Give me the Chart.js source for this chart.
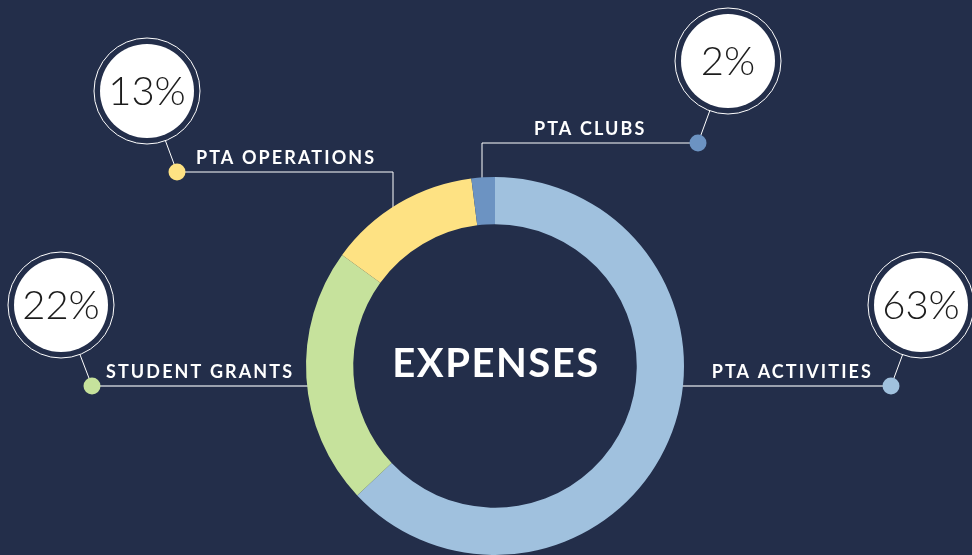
<!DOCTYPE html>
<html><head><meta charset="utf-8">
<script src="https://cdn.jsdelivr.net/npm/chart.js@4/dist/chart.umd.min.js"></script>
<style>html,body{margin:0;padding:0;background:#232e4a;overflow:hidden}canvas{display:block}</style>
</head><body>
<canvas id="c" width="972" height="555"></canvas>
<script>
const categories = ['PTA ACTIVITIES', 'STUDENT GRANTS', 'PTA OPERATIONS', 'PTA CLUBS'];
const values = [63, 22, 13, 2];
const percentLabels = ['63%', '22%', '13%', '2%'];
const centerTitle = 'EXPENSES';
const colors = ['#a0c1de', '#c6e29c', '#fee283', '#6c93c2'];

// callout layout (decoration), offsets relative to the doughnut centre
const callouts = [
  {dot:[396,20], bubble:[426,-61], label:'right', labelX:378, lineTo:'ring', line:'#c3c8d0', lw:1.5},
  {dot:[-403,20], bubble:[-434,-61], label:'left', labelX:-389, lineTo:'ring', line:'#c3c8d0', lw:1.5},
  {dot:[-318,-194], bubble:[-348,-275], label:'left', labelX:-299, elbowX:-102, line:'#ffffff', lw:1},
  {dot:[203,-223], bubble:[233,-305], label:'left', labelX:39, elbowX:-13, line:'#ffffff', lw:1}
];

const calloutPlugin = {
  id: 'callouts',
  beforeDatasetsDraw(chart) {
    const ctx = chart.ctx;
    const a = chart.getDatasetMeta(0).data[0];
    const cx = a.x, cy = a.y, R = a.outerRadius;
    ctx.save();
    callouts.forEach((c) => {
      const dx = cx + c.dot[0], dy = cy + c.dot[1];
      ctx.strokeStyle = c.line; ctx.lineWidth = c.lw;
      ctx.beginPath();
      if (c.lineTo === 'ring') {
        const ex = cx + Math.sign(c.dot[0]) * (R - 6);
        ctx.moveTo(dx, dy); ctx.lineTo(ex, dy);
      } else {
        const ex = cx + c.elbowX;
        const ey = cy - Math.sqrt(R * R - c.elbowX * c.elbowX) + 8;
        ctx.moveTo(dx, dy); ctx.lineTo(ex, dy); ctx.lineTo(ex, ey);
      }
      ctx.stroke();
    });
    ctx.restore();
  },
  afterDraw(chart) {
    const ctx = chart.ctx;
    const meta = chart.getDatasetMeta(0);
    const a = meta.data[0];
    const cx = a.x, cy = a.y;
    ctx.save();
    ctx.fillStyle = '#ffffff';
    ctx.font = '700 40px Lato, "Open Sans", sans-serif';
    ctx.letterSpacing = '1.5px';
    ctx.textAlign = 'center'; ctx.textBaseline = 'alphabetic';
    ctx.fillText(centerTitle, cx + 1, cy + 11);
    callouts.forEach((c, i) => {
      const dx = cx + c.dot[0], dy = cy + c.dot[1];
      const bx = cx + c.bubble[0], by = cy + c.bubble[1];
      const ang = Math.atan2(dy - by, dx - bx);
      ctx.strokeStyle = '#ffffff'; ctx.lineWidth = 1;
      ctx.beginPath();
      ctx.moveTo(bx + Math.cos(ang) * 53, by + Math.sin(ang) * 53);
      ctx.lineTo(dx, dy);
      ctx.stroke();
      ctx.fillStyle = colors[i];
      ctx.beginPath(); ctx.arc(dx, dy, 8.5, 0, Math.PI * 2); ctx.fill();
      ctx.beginPath(); ctx.arc(bx, by, 53, 0, Math.PI * 2);
      ctx.strokeStyle = '#ffffff'; ctx.lineWidth = 1; ctx.stroke();
      ctx.beginPath(); ctx.arc(bx, by, 47, 0, Math.PI * 2);
      ctx.fillStyle = '#ffffff'; ctx.fill();
      ctx.fillStyle = '#1c1c1c';
      ctx.font = '300 40px Lato, "Open Sans", sans-serif';
      ctx.letterSpacing = '0px';
      ctx.textAlign = 'center';
      ctx.fillText(percentLabels[i], bx, by + 14);
      ctx.fillStyle = '#ffffff';
      ctx.font = '700 18px Lato, "Open Sans", sans-serif';
      ctx.letterSpacing = '2.1px';
      ctx.textAlign = c.label === 'right' ? 'right' : 'left';
      ctx.fillText(categories[i], cx + c.labelX, dy - 8);
    });
    ctx.restore();
  }
};

new Chart(document.getElementById('c'), {
  type: 'doughnut',
  data: {
    labels: categories,
    datasets: [{ data: values, backgroundColor: colors, borderWidth: 0, hoverOffset: 0 }]
  },
  options: {
    responsive: false,
    animation: false,
    cutout: '75%',
    rotation: 0,
    layout: { padding: { top: 177, left: 18, right: 0, bottom: 0 } },
    plugins: { legend: { display: false }, tooltip: { enabled: false } },
    events: []
  },
  plugins: [calloutPlugin]
});
</script>
</body></html>
